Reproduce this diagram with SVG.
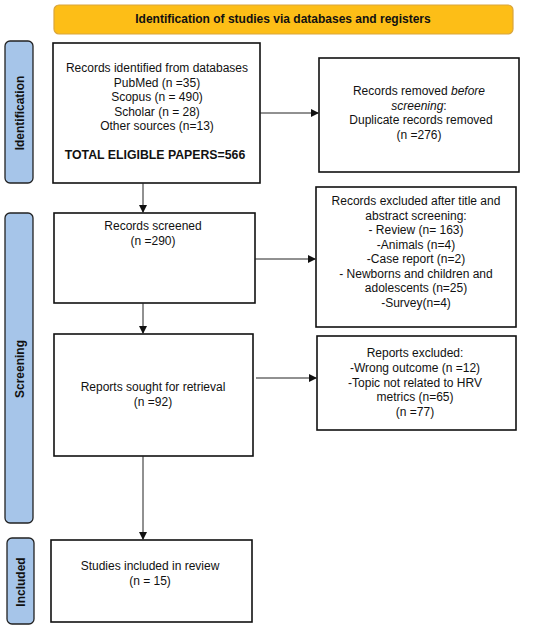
<svg xmlns="http://www.w3.org/2000/svg" width="550" height="627" viewBox="0 0 550 627">
<style>
text{font-family:"Liberation Sans",Arial,sans-serif;font-size:12px;fill:#111}
.b{font-weight:bold}
.box{fill:#fff;stroke:#111;stroke-width:1.6}
.side{fill:#a6c5e9;stroke:#222;stroke-width:1.3}
.hdr{fill:#fdbe17;stroke:#d9a53c;stroke-width:1.2}
.c line{stroke:#222;stroke-width:1}
</style>
<defs>
<marker id="ah" markerWidth="8" markerHeight="8" refX="7" refY="4" orient="auto" markerUnits="userSpaceOnUse">
<path d="M0,0 L8,4 L0,8 Z" fill="#111"/>
</marker>
</defs>
<g id="header">
<rect class="hdr" x="54" y="5" width="459" height="29" rx="5"/>
<text class="b" x="283" y="23" text-anchor="middle">Identification of studies via databases and registers</text>
</g>
<g id="side-identification">
<rect class="side" x="5" y="41" width="28" height="142" rx="5"/>
<text class="b" transform="translate(23.5,113) rotate(-90)" text-anchor="middle">Identification</text>
</g>
<g id="side-screening">
<rect class="side" x="5" y="213" width="28" height="310" rx="5"/>
<text class="b" transform="translate(23.5,369) rotate(-90)" text-anchor="middle">Screening</text>
</g>
<g id="side-included">
<rect class="side" x="7" y="538" width="27" height="86" rx="5"/>
<text class="b" transform="translate(25,582) rotate(-90)" text-anchor="middle">Included</text>
</g>
<g id="identified">
<rect class="box" x="53" y="43" width="207" height="140"/>
<text x="157" y="72" text-anchor="middle">Records identified from databases</text>
<text x="157" y="86.5" text-anchor="middle">PubMed (n =35)</text>
<text x="157" y="101" text-anchor="middle">Scopus (n = 490)</text>
<text x="157" y="115.5" text-anchor="middle">Scholar (n = 28)</text>
<text x="157" y="130" text-anchor="middle">Other sources (n=13)</text>
<text class="b" x="155" y="159" text-anchor="middle" style="font-size:12.3px">TOTAL ELIGIBLE PAPERS=566</text>
</g>
<g id="removed">
<rect class="box" x="319" y="58" width="200" height="114"/>
<text x="419" y="95" text-anchor="middle">Records removed <tspan font-style="italic">before</tspan></text>
<text x="419" y="109.5" text-anchor="middle"><tspan font-style="italic">screening</tspan>:</text>
<text x="421" y="124" text-anchor="middle">Duplicate records removed</text>
<text x="419" y="138.5" text-anchor="middle">(n =276)</text>
</g>
<g id="screened">
<rect class="box" x="54" y="213" width="201" height="90"/>
<text x="153" y="230" text-anchor="middle">Records screened</text>
<text x="153" y="245" text-anchor="middle">(n =290)</text>
</g>
<g id="excluded">
<rect class="box" x="316" y="187" width="200" height="140"/>
<text x="416" y="205" text-anchor="middle">Records excluded after title and</text>
<text x="416" y="219.5" text-anchor="middle">abstract screening:</text>
<text x="416" y="234" text-anchor="middle">- Review (n= 163)</text>
<text x="416" y="248.5" text-anchor="middle">-Animals (n=4)</text>
<text x="416" y="263" text-anchor="middle">-Case report (n=2)</text>
<text x="416" y="277.5" text-anchor="middle">- Newborns and children and</text>
<text x="416" y="292" text-anchor="middle">adolescents (n=25)</text>
<text x="416" y="306.5" text-anchor="middle">-Survey(n=4)</text>
</g>
<g id="sought">
<rect class="box" x="54" y="334" width="199" height="122"/>
<text x="153" y="391" text-anchor="middle">Reports sought for retrieval</text>
<text x="153" y="406" text-anchor="middle">(n =92)</text>
</g>
<g id="reports-excluded">
<rect class="box" x="317" y="336" width="199" height="94"/>
<text x="415" y="357" text-anchor="middle">Reports excluded:</text>
<text x="415" y="372" text-anchor="middle">-Wrong outcome (n =12)</text>
<text x="415" y="387" text-anchor="middle">-Topic not related to HRV</text>
<text x="415" y="401" text-anchor="middle">metrics (n=65)</text>
<text x="415" y="416" text-anchor="middle">(n =77)</text>
</g>
<g id="included">
<rect class="box" x="51" y="540" width="201" height="82"/>
<text x="150" y="570" text-anchor="middle">Studies included in review</text>
<text x="150" y="585" text-anchor="middle">(n = 15)</text>
</g>
<g id="connectors" class="c">
<line x1="260" y1="113" x2="318" y2="113" marker-end="url(#ah)"/>
<line x1="143" y1="183" x2="143" y2="212" marker-end="url(#ah)"/>
<line x1="255" y1="259" x2="315" y2="259" marker-end="url(#ah)"/>
<line x1="143" y1="303" x2="143" y2="333" marker-end="url(#ah)"/>
<line x1="256" y1="378" x2="316" y2="378" marker-end="url(#ah)"/>
<line x1="143" y1="456" x2="143" y2="539" marker-end="url(#ah)"/>
</g>
</svg>
